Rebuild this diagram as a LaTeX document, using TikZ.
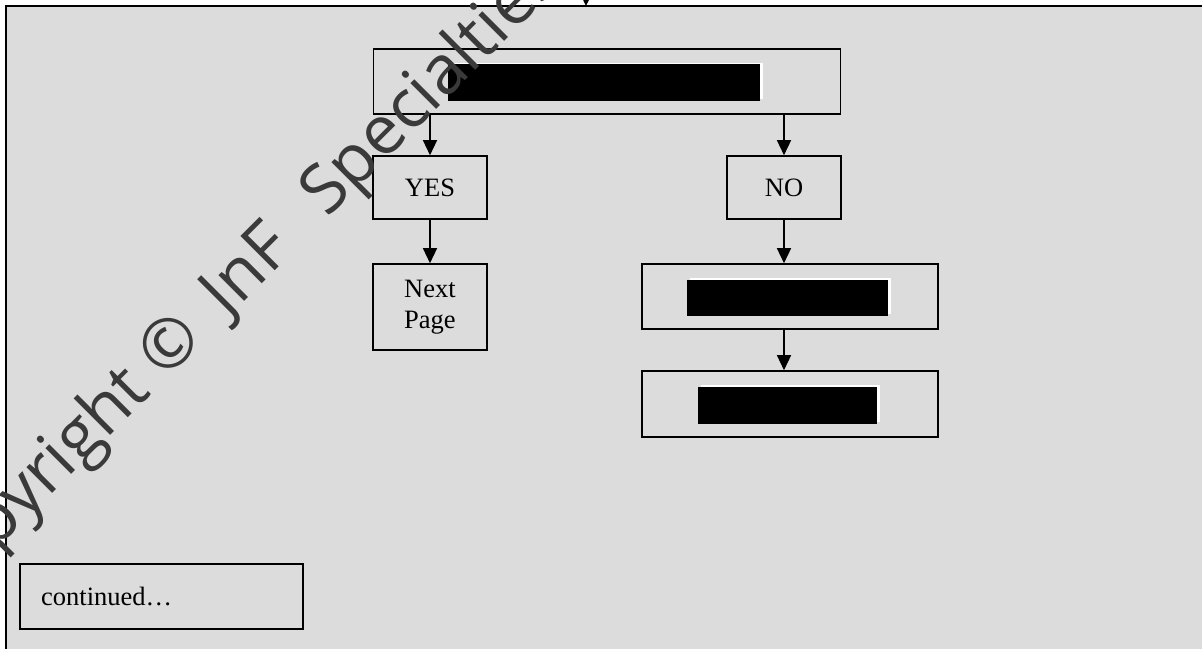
\documentclass[tikz,border=0pt]{standalone}
\usepackage{fontspec}
\setmainfont{Liberation Serif}
\newfontfamily\markfont{Open Sans}
\usepackage{tikz}
\usetikzlibrary{arrows.meta,positioning}
\definecolor{panelgray}{HTML}{DCDCDC}
\definecolor{markgray}{HTML}{3A3A3A}

\begin{document}
\begin{tikzpicture}[x=1pt, y=-1pt,
  box/.style={draw, line width=1.6pt, inner sep=0pt, align=center,
    font=\fontsize{26.5}{30.5}\selectfont},
  arr/.style={-{Triangle[width=14pt,length=15pt]}, line width=1.4pt}]

  \useasboundingbox (0,0) rectangle (1202,648);
  \clip (0,0) rectangle (1202,648);

  % Page and grey panel
  \fill[white] (0,0) rectangle (1202,648);
  \filldraw[fill=panelgray, draw=black, line width=1.8pt] (6,6) rectangle (1230,680);

  % Boxes
  \node[box, minimum width=467pt, minimum height=65pt] (question) at (607,81.5) {};
  \node[box, minimum width=113.5pt, minimum height=63pt] (yes) at (430,187.5) {YES};
  \node[box, minimum width=114pt, minimum height=63pt] (no) at (784,187.5) {NO};
  \node[box, minimum width=113.5pt, minimum height=86pt] (next) at (430,307) {Next\\Page};
  \node[box, minimum width=296pt, minimum height=65pt] (stepone) at (790,296.5) {};
  \node[box, minimum width=296pt, minimum height=66pt] (steptwo) at (790,404) {};
  \node[box, minimum width=283pt, minimum height=65pt] (cont) at (161.5,596.5) {};
  \node[anchor=base west, inner sep=0pt, font=\fontsize{26.5}{30.5}\selectfont] (contlabel) at (41,605) {continued…};

  % Blacked-out texts
  \fill[white] (451,62.5) rectangle (763,99);
  \fill[black] (448,64) rectangle (760,101);
  \fill[white] (690,278) rectangle (891,314);
  \fill[black] (687,280) rectangle (888,316);
  \fill[white] (701,385) rectangle (880,422);
  \fill[black] (698,387) rectangle (877,424);

  % Arrows
  \coordinate (prevbox) at (586,-20);
  \coordinate (panelin) at (586,6);
  \draw[arr] (prevbox) -- (panelin);
  \draw[arr] (question.south -| yes.north) -- (yes.north);
  \draw[arr] (question.south -| no.north) -- (no.north);
  \draw[arr] (yes.south) -- (next.north);
  \draw[arr] (no.south) -- (no.south |- stepone.north);
  \draw[arr] (stepone.south -| no.south) -- (steptwo.north -| no.south);

  % Watermark
  \node[rotate=45, anchor=base west, inner sep=0pt, text=markgray,
    font=\markfont\fontsize{68}{68}\selectfont] (mark) at (-64,610)
    {Copyright ©\hspace{14pt} JnF\hspace{28pt} Specialties};

\end{tikzpicture}
\end{document}
